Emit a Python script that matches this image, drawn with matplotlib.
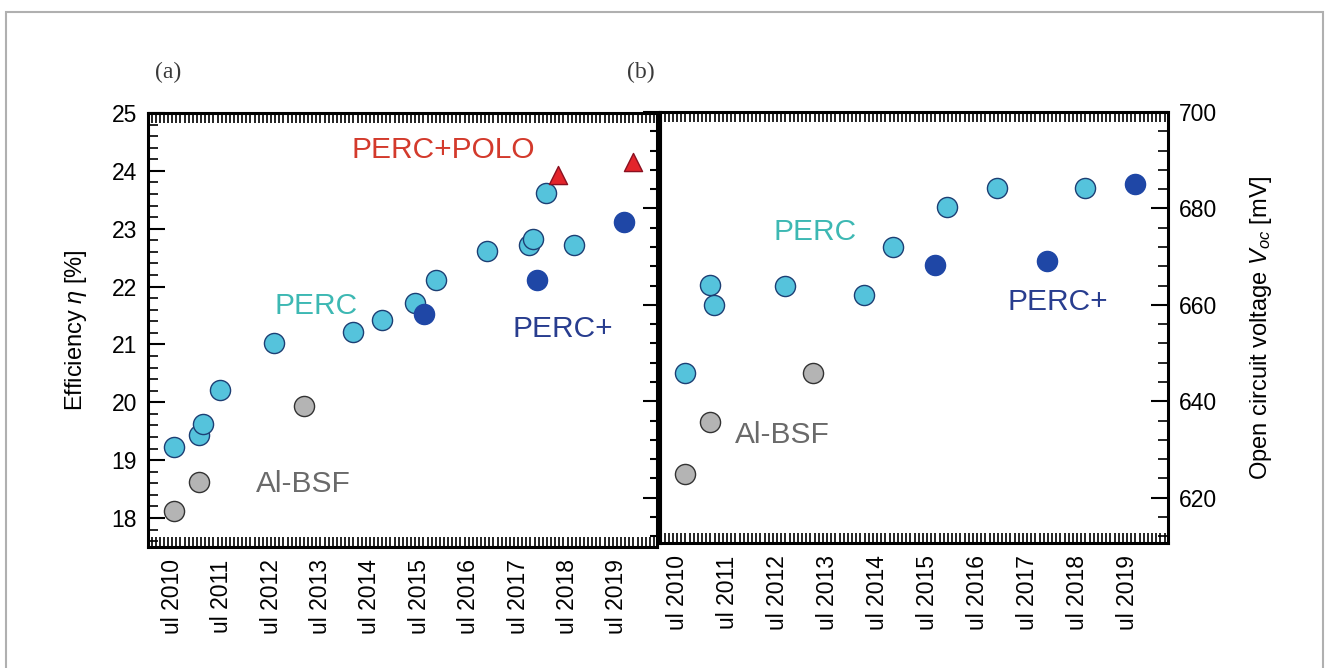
import matplotlib
matplotlib.use("Agg")
import matplotlib.pyplot as plt
from matplotlib.ticker import MultipleLocator, FixedLocator
from matplotlib.patches import Rectangle

plt.rcParams['font.family'] = ['Liberation Sans', 'DejaVu Sans']
plt.rcParams['mathtext.fontset'] = 'custom'
plt.rcParams['mathtext.it'] = 'Liberation Sans:italic'
plt.rcParams['mathtext.rm'] = 'Liberation Sans'

# tick labels (years, labels cut at the left like in the source)
years = [2010, 2011, 2012, 2013, 2014, 2015, 2016, 2017, 2018, 2019]
year_labels = ['ul %d' % y for y in years]

# (a) efficiency [%] vs. date (decimal years)
perc_a_x = [2010.54, 2011.05, 2011.13, 2011.47, 2012.56, 2014.16, 2014.75,
            2015.42, 2015.84, 2016.88, 2017.71, 2017.81, 2018.07, 2018.64]
perc_a_y = [19.22, 19.43, 19.62, 20.22, 21.03, 21.22, 21.43,
            21.72, 22.12, 22.62, 22.72, 22.83, 23.62, 22.72]
percplus_a_x = [2015.60, 2017.89, 2019.65]
percplus_a_y = [21.52, 22.12, 23.12]
bsf_a_x = [2010.54, 2011.05, 2013.17]
bsf_a_y = [18.12, 18.62, 19.93]
polo_x = [2018.31, 2019.83]
polo_y = [23.93, 24.15]

# (b) open circuit voltage [mV]
perc_b_x = [2010.66, 2011.16, 2011.24, 2012.66, 2014.24, 2014.82, 2015.90, 2016.90, 2018.66]
perc_b_y = [645.9, 664.2, 660.0, 664.0, 662.1, 672.1, 680.2, 684.2, 684.2]
percplus_b_x = [2015.66, 2017.90, 2019.66]
percplus_b_y = [668.2, 669.0, 685.0]
bsf_b_x = [2010.66, 2011.16, 2013.22]
bsf_b_y = [624.9, 635.7, 645.9]

CYAN = '#55c3dc'
CYAN_EDGE = '#1d3f74'
DARK = '#1f47a6'
GRAY = '#b4b4b4'
RED = '#e3242b'

fig = plt.figure(figsize=(13.29, 6.68), dpi=100)
fig.patches.append(Rectangle((6 / 1329, -0.05), 1317 / 1329, 1.05 - 12 / 668,
                             transform=fig.transFigure, fill=False,
                             edgecolor='#b0b0b0', linewidth=1.5))

ax1 = fig.add_axes([148 / 1329, (668 - 547) / 668, 509 / 1329, 434 / 668])
ax2 = fig.add_axes([660 / 1329, (668 - 543) / 668, 508 / 1329, 431 / 668])

ms = 210
lab_fs = 21.5


def style_x(ax):
    ax.xaxis.set_major_locator(FixedLocator([y + 0.5 for y in years]))
    ax.xaxis.set_minor_locator(FixedLocator([2010 + m / 12 for m in range(0, 12 * 11)]))
    ax.set_xticklabels(year_labels, rotation=90, fontsize=16.5)
    ax.tick_params(axis='x', which='both', direction='in', top=True, bottom=True,
                   length=7, width=1.2, pad=9)
    for s in ax.spines.values():
        s.set_linewidth(2.2)


# panel (a)
ax1.scatter(bsf_a_x, bsf_a_y, s=ms, c=GRAY, edgecolors='#333333', linewidths=1.0, zorder=3)
ax1.scatter(perc_a_x, perc_a_y, s=ms, c=CYAN, edgecolors=CYAN_EDGE, linewidths=1.0, zorder=3)
ax1.scatter(percplus_a_x, percplus_a_y, s=ms, c=DARK, edgecolors=DARK, linewidths=1.0, zorder=4)
ax1.scatter(polo_x, polo_y, s=170, marker='^', c=RED, edgecolors='#8a1020', linewidths=1.0, zorder=4)
ax1.set_xlim(2010.01, 2020.31)
ax1.set_ylim(17.5, 25.0)
ax1.yaxis.set_major_locator(MultipleLocator(1))
ax1.yaxis.set_minor_locator(MultipleLocator(0.2))
ax1.tick_params(axis='y', which='both', direction='in', left=True, right=False, labelsize=16.5)
ax1.tick_params(axis='y', which='major', length=12, width=1.5, pad=8)
ax1.tick_params(axis='y', which='minor', length=7, width=1.2)
style_x(ax1)
ax1.set_ylabel(r'Efficiency $\eta$ [%]', fontsize=17, labelpad=16)

ax1.text(2015.99, 24.36, 'PERC+POLO', color='#d33a2c', fontsize=lab_fs, ha='center', va='center')
ax1.text(2013.42, 21.66, 'PERC', color='#3db8b3', fontsize=lab_fs, ha='center', va='center')
ax1.text(2018.41, 21.26, 'PERC+', color='#283d8f', fontsize=lab_fs, ha='center', va='center')
ax1.text(2013.15, 18.59, 'Al-BSF', color='#6a6a6a', fontsize=lab_fs, ha='center', va='center')

# panel (b)
ax2.scatter(bsf_b_x, bsf_b_y, s=ms, c=GRAY, edgecolors='#333333', linewidths=1.0, zorder=3)
ax2.scatter(perc_b_x, perc_b_y, s=ms, c=CYAN, edgecolors=CYAN_EDGE, linewidths=1.0, zorder=3)
ax2.scatter(percplus_b_x, percplus_b_y, s=ms, c=DARK, edgecolors=DARK, linewidths=1.0, zorder=4)
ax2.set_xlim(2010.16, 2020.32)
ax2.set_ylim(610.6, 700)
ax2.yaxis.set_major_locator(MultipleLocator(20))
ax2.yaxis.set_minor_locator(MultipleLocator(4))
ax2.yaxis.tick_right()
ax2.tick_params(axis='y', which='both', direction='in', left=False, right=True, labelsize=16.5)
ax2.tick_params(axis='y', which='major', length=12, width=1.5, pad=8)
ax2.tick_params(axis='y', which='minor', length=7, width=1.2)
style_x(ax2)
ax2.yaxis.set_label_position('right')
ax2.set_ylabel(r'Open circuit voltage $V_{oc}$ [mV]', fontsize=17, labelpad=22)

# outward ticks on the shared left edge of panel (b)
sec = ax2.secondary_yaxis('left')
sec.yaxis.set_major_locator(MultipleLocator(20))
sec.yaxis.set_minor_locator(MultipleLocator(4))
sec.tick_params(which='both', direction='out', labelleft=False, width=1.5)
sec.tick_params(which='major', length=12)
sec.tick_params(which='minor', length=7)
sec.spines['left'].set_linewidth(2.2)

ax2.text(2013.26, 675.1, 'PERC', color='#3db8b3', fontsize=lab_fs, ha='center', va='center')
ax2.text(2018.12, 660.5, 'PERC+', color='#283d8f', fontsize=lab_fs, ha='center', va='center')
ax2.text(2012.60, 632.9, 'Al-BSF', color='#6a6a6a', fontsize=lab_fs, ha='center', va='center')

fig.text(155 / 1329, 1 - 72 / 668, '(a)', family='Liberation Serif', fontsize=17,
         color='#3a3a3a', ha='left', va='center')
fig.text(641 / 1329, 1 - 72 / 668, '(b)', family='Liberation Serif', fontsize=17,
         color='#3a3a3a', ha='center', va='center')

fig.savefig('out.png', dpi=100)
